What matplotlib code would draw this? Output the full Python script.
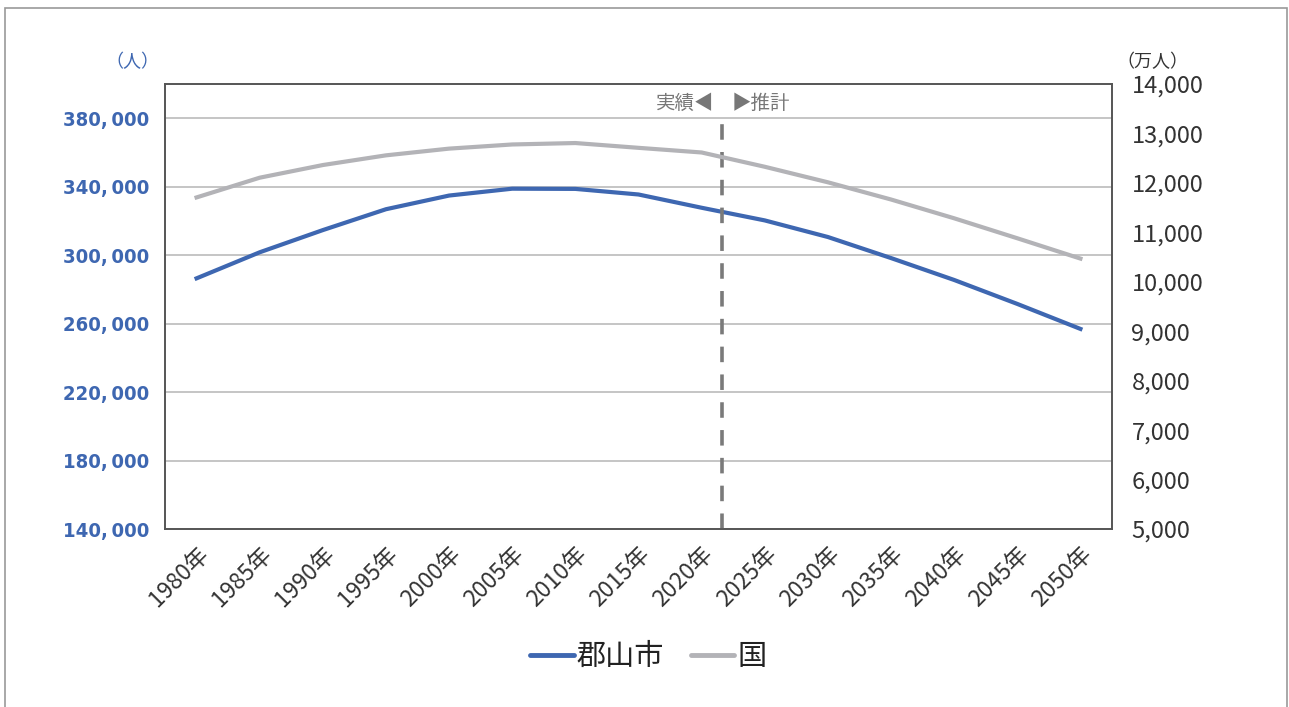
"""Koriyama city vs national population, actual and projected."""

import matplotlib.pyplot as plt
from matplotlib.lines import Line2D
from matplotlib.patches import Rectangle

plt.rcParams['font.family'] = ['Noto Sans CJK JP', 'DejaVu Sans']

years = ["1980年", "1985年", "1990年", "1995年", "2000年", "2005年", "2010年", "2015年",
         "2020年", "2025年", "2030年", "2035年", "2040年", "2045年", "2050年"]
koriyama = [286451, 301673, 314642, 326833, 334824, 338834, 338712, 335444,
            327692, 320300, 310600, 298300, 285500, 271500, 256900]
japan = [11706, 12105, 12361, 12557, 12693, 12777, 12806, 12709,
         12615, 12326, 12012, 11664, 11284, 10880, 10469]
left_ticks = [140000, 180000, 220000, 260000, 300000, 340000, 380000]
right_ticks = list(range(5000, 14001, 1000))
split_pos = 8.33

BLUE = "#3E67B1"
GREY = "#B3B3B7"

fig = plt.figure(figsize=(12.89, 7.07), dpi=100)
fig.patches.append(Rectangle((5 / 1289, -0.1), 1282 / 1289, 1.1 - 8 / 707,
                             transform=fig.transFigure, fill=False,
                             edgecolor="#999999", linewidth=1.2))

ax = fig.add_axes([165 / 1289, 1 - 529 / 707, 947 / 1289, 445 / 707])
ax2 = ax.twinx()

x = list(range(len(years)))
ax.plot(x, koriyama, color=BLUE, linewidth=3, zorder=3)
ax2.plot(x, japan, color=GREY, linewidth=3, zorder=3)

ax.set_xlim(-0.5, len(years) - 0.5)
ax.set_ylim(140000, 400000)
ax2.set_ylim(5000, 14000)

ax.set_yticks(left_ticks)
ax.set_yticklabels([f"{v // 1000},\u2009000" for v in left_ticks],
                   family="DejaVu Sans", fontstretch="condensed",
                   fontweight="bold", fontsize=14.5, color=BLUE)
ax.grid(axis="y", color="#BBBBBB", linewidth=1.2)
ax.set_axisbelow(True)

ax2.set_yticks(right_ticks)
ax2.set_yticklabels([f"{v:,}" for v in right_ticks], fontsize=17, color="#333333")

ax.set_xticks(x)
ax.set_xticklabels(years, rotation=45, ha="right", va="top",
                   rotation_mode="anchor", fontsize=16.5, color="#333333")

ax.tick_params(axis="y", length=0, pad=11)
ax.tick_params(axis="x", length=0, pad=10)
ax2.tick_params(axis="y", length=0, pad=14)

for a in (ax, ax2):
    for side in ("left", "right", "top", "bottom"):
        a.spines[side].set_color("#555555")
        a.spines[side].set_linewidth(1.2)

ax.axvline(split_pos, ymax=0.919, color="#7A7A7A", linewidth=2.6,
           linestyle=(0, (4.3, 3.4)), zorder=4)
ax.text(split_pos - 0.12, 0.957, "実績◀", transform=ax.get_xaxis_transform(),
        fontsize=14, color="#777777", ha="right", va="center")
ax.text(split_pos + 0.15, 0.957, "▶推計", transform=ax.get_xaxis_transform(),
        fontsize=14, color="#777777", ha="left", va="center")

fig.text(132 / 1289, 1 - 62 / 707, "（人）", color=BLUE, fontsize=13,
         ha="center", va="center")
fig.text(1152 / 1289, 1 - 62 / 707, "（万人）", color="#333333", fontsize=13,
         ha="center", va="center")

handles = [Line2D([], [], color=BLUE, linewidth=3.5, solid_capstyle="round"),
           Line2D([], [], color=GREY, linewidth=3.5, solid_capstyle="round")]
fig.legend(handles, ["郡山市", "国"], loc="center", bbox_to_anchor=(0.503, 1 - 657 / 707),
           ncol=2, frameon=False, fontsize=21, handlelength=1.5, handletextpad=0.1,
           columnspacing=0.9, labelcolor="#222222")

fig.savefig("out.png", dpi=100)
